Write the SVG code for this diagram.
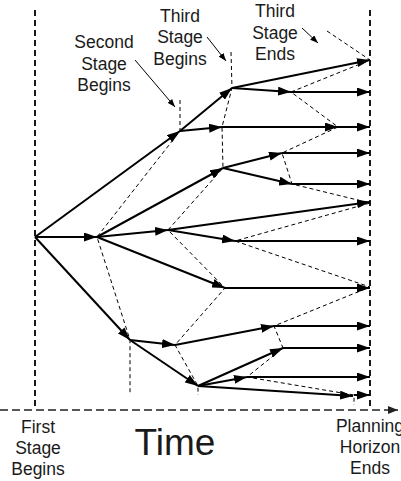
<svg xmlns="http://www.w3.org/2000/svg" width="401" height="481" viewBox="0 0 401 481">
  <defs>
    <marker id="head" markerUnits="userSpaceOnUse" markerWidth="13" markerHeight="9" refX="13" refY="4.5" orient="auto">
      <path d="M0,0 L13,4.5 L0,9 z" fill="#000"/>
    </marker>
    <marker id="small" markerUnits="userSpaceOnUse" markerWidth="8" markerHeight="6" refX="8" refY="3" orient="auto">
      <path d="M0,0 L8,3 L0,6 z" fill="#000"/>
    </marker>
    <marker id="axisHead" markerUnits="userSpaceOnUse" markerWidth="10" markerHeight="8" refX="10" refY="4" orient="auto">
      <path d="M0,0 L10,4 L0,8 z" fill="#222"/>
    </marker>
  </defs>
  <style>
    .lbl { font-family: "Liberation Sans", Arial, Helvetica, sans-serif; font-size: 17.5px; fill: #1a1a1a; text-anchor: middle; }
    .big { font-family: "Liberation Sans", Arial, Helvetica, sans-serif; font-size: 37px; fill: #1a1a1a; text-anchor: middle; }
    .edge { stroke: #000; stroke-width: 2; fill: none; marker-end: url(#head); }
    .stage { stroke: #000; stroke-width: 1; stroke-dasharray: 4 3; fill: none; }
    .bound { stroke: #000; stroke-width: 1.8; stroke-dasharray: 6 4; fill: none; }
    .ptr { stroke: #000; stroke-width: 1; fill: none; marker-end: url(#small); }
  </style>

  <!-- time axis and horizon boundaries -->
  <g id="axes">
    <line x1="0" y1="410" x2="398" y2="410" stroke="#222" stroke-width="1.6" stroke-dasharray="8 4" marker-end="url(#axisHead)"/>
    <line class="bound" x1="35" y1="10" x2="35" y2="408"/>
    <line class="bound" x1="370" y1="10" x2="370" y2="408"/>
  </g>

  <!-- stage boundaries -->
  <g id="stages">
    <polyline class="stage" points="180,100 180,131 97,237 130,340 130,395"/>
    <polyline class="stage" points="231,52 232,88 222,127 223,168 168,230 225,288 175,345 198,386 198,395"/>
    <polyline class="stage" points="327,31 370,60 291,92 338,127 282,153 292,184 370,203 235,241 370,287 274,326 283,348 247,377 354,395 354,405"/>
  </g>

  <!-- scenario tree connectors -->
  <g id="connectors">
    <line class="edge" x1="35" y1="237" x2="180" y2="131"/>
    <line class="edge" x1="35" y1="237" x2="97" y2="237"/>
    <line class="edge" x1="35" y1="237" x2="130" y2="340"/>
    <line class="edge" x1="180" y1="131" x2="232" y2="88"/>
    <line class="edge" x1="180" y1="131" x2="222" y2="127"/>
    <line class="edge" x1="232" y1="88" x2="370" y2="60"/>
    <line class="edge" x1="232" y1="88" x2="291" y2="92"/>
    <line class="edge" x1="291" y1="92" x2="370" y2="92"/>
    <line class="edge" x1="222" y1="127" x2="338" y2="127"/>
    <line class="edge" x1="338" y1="127" x2="370" y2="127"/>
    <line class="edge" x1="97" y1="237" x2="223" y2="168"/>
    <line class="edge" x1="97" y1="237" x2="168" y2="230"/>
    <line class="edge" x1="97" y1="237" x2="225" y2="288"/>
    <line class="edge" x1="223" y1="168" x2="282" y2="153"/>
    <line class="edge" x1="223" y1="168" x2="292" y2="184"/>
    <line class="edge" x1="282" y1="153" x2="370" y2="153"/>
    <line class="edge" x1="292" y1="184" x2="370" y2="184"/>
    <line class="edge" x1="168" y1="230" x2="370" y2="202"/>
    <line class="edge" x1="168" y1="230" x2="235" y2="241"/>
    <line class="edge" x1="235" y1="241" x2="370" y2="241"/>
    <line class="edge" x1="225" y1="288" x2="370" y2="288"/>
    <line class="edge" x1="130" y1="340" x2="175" y2="345"/>
    <line class="edge" x1="130" y1="340" x2="198" y2="386"/>
    <line class="edge" x1="175" y1="345" x2="274" y2="326"/>
    <line class="edge" x1="274" y1="326" x2="370" y2="326"/>
    <line class="edge" x1="198" y1="386" x2="283" y2="348"/>
    <line class="edge" x1="283" y1="348" x2="370" y2="348"/>
    <line class="edge" x1="198" y1="386" x2="247" y2="377"/>
    <line class="edge" x1="247" y1="377" x2="370" y2="377"/>
    <line class="edge" x1="198" y1="386" x2="353" y2="396"/>
    <line class="edge" x1="354" y1="395" x2="370" y2="395"/>
  </g>

  <!-- labels with pointers -->
  <g id="second-stage-begins">
    <text class="lbl" x="104" y="48">Second</text>
    <text class="lbl" x="104" y="69.5">Stage</text>
    <text class="lbl" x="104" y="91">Begins</text>
    <line class="ptr" x1="135" y1="60" x2="175" y2="107"/>
  </g>
  <g id="third-stage-begins">
    <text class="lbl" x="180" y="21.5">Third</text>
    <text class="lbl" x="180" y="43">Stage</text>
    <text class="lbl" x="180" y="64.5">Begins</text>
    <line class="ptr" x1="207" y1="37" x2="226" y2="61"/>
  </g>
  <g id="third-stage-ends">
    <text class="lbl" x="275" y="17">Third</text>
    <text class="lbl" x="275" y="38.5">Stage</text>
    <text class="lbl" x="275" y="60">Ends</text>
    <line class="ptr" x1="302" y1="28" x2="318" y2="43"/>
  </g>
  <g id="first-stage-begins">
    <text class="lbl" x="38" y="433">First</text>
    <text class="lbl" x="38" y="454">Stage</text>
    <text class="lbl" x="38" y="475">Begins</text>
  </g>
  <g id="time">
    <text class="big" x="175" y="455">Time</text>
  </g>
  <g id="planning-horizon-ends">
    <text class="lbl" x="370" y="432">Planning</text>
    <text class="lbl" x="370" y="453">Horizon</text>
    <text class="lbl" x="370" y="474">Ends</text>
  </g>
</svg>
